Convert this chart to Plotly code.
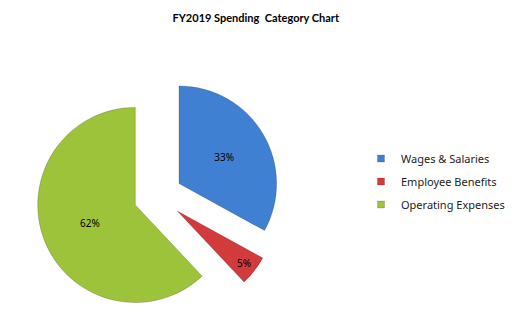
import plotly.graph_objects as go

categories = ["Wages & Salaries", "Employee Benefits", "Operating Expenses"]
shares = [33, 5, 62]
colors = ["#3F80D3", "#D13B3B", "#9DC33A"]
title_text = "FY2019 Spending  Category Chart"

W, H = 522, 335
cx, cy = 158, 196
half = 122

fig = go.Figure(go.Pie(
    labels=categories,
    values=shares,
    sort=False,
    direction="clockwise",
    rotation=0,
    pull=[0.25, 0.25, 0.25],
    marker=dict(colors=colors, line=dict(color="rgba(0,0,0,0.18)", width=1)),
    texttemplate="%{percent:.0%}",
    textposition="inside",
    insidetextorientation="horizontal",
    textfont=dict(family="Noto Sans", size=10, color="#000000"),
    domain=dict(x=[(cx - half) / W, (cx + half) / W],
                y=[1 - (cy + half) / H, 1 - (cy - half) / H]),
    hoverinfo="label+percent",
    showlegend=False,
))

# legend entries (one per category, matching slice colours)
for i, (name, col) in enumerate(zip(categories, colors)):
    fig.add_trace(go.Scatter(
        x=[None], y=[None], mode="markers", name=name,
        legendgroup=f"g{i}",
        marker=dict(symbol="square", size=7, color=col,
                    line=dict(color="rgba(0,0,0,0.3)", width=0.5)),
        hoverinfo="skip",
    ))

fig.update_layout(
    width=W, height=H,
    margin=dict(l=0, r=0, t=0, b=0),
    paper_bgcolor="white",
    plot_bgcolor="white",
    xaxis=dict(visible=False),
    yaxis=dict(visible=False),
    title=dict(text=title_text, x=0.49, xanchor="center",
               y=1 - 18 / H, yanchor="middle", yref="container",
               font=dict(family="Lato", size=11, color="#000000", weight="bold")),
    legend=dict(x=361 / W, xanchor="left", y=1 - 144 / H, yanchor="top",
                font=dict(family="Noto Sans", size=11, color="#222222"),
                itemwidth=30, tracegroupgap=4, bgcolor="rgba(0,0,0,0)"),
    showlegend=True,
)

fig.write_html("out.html")
